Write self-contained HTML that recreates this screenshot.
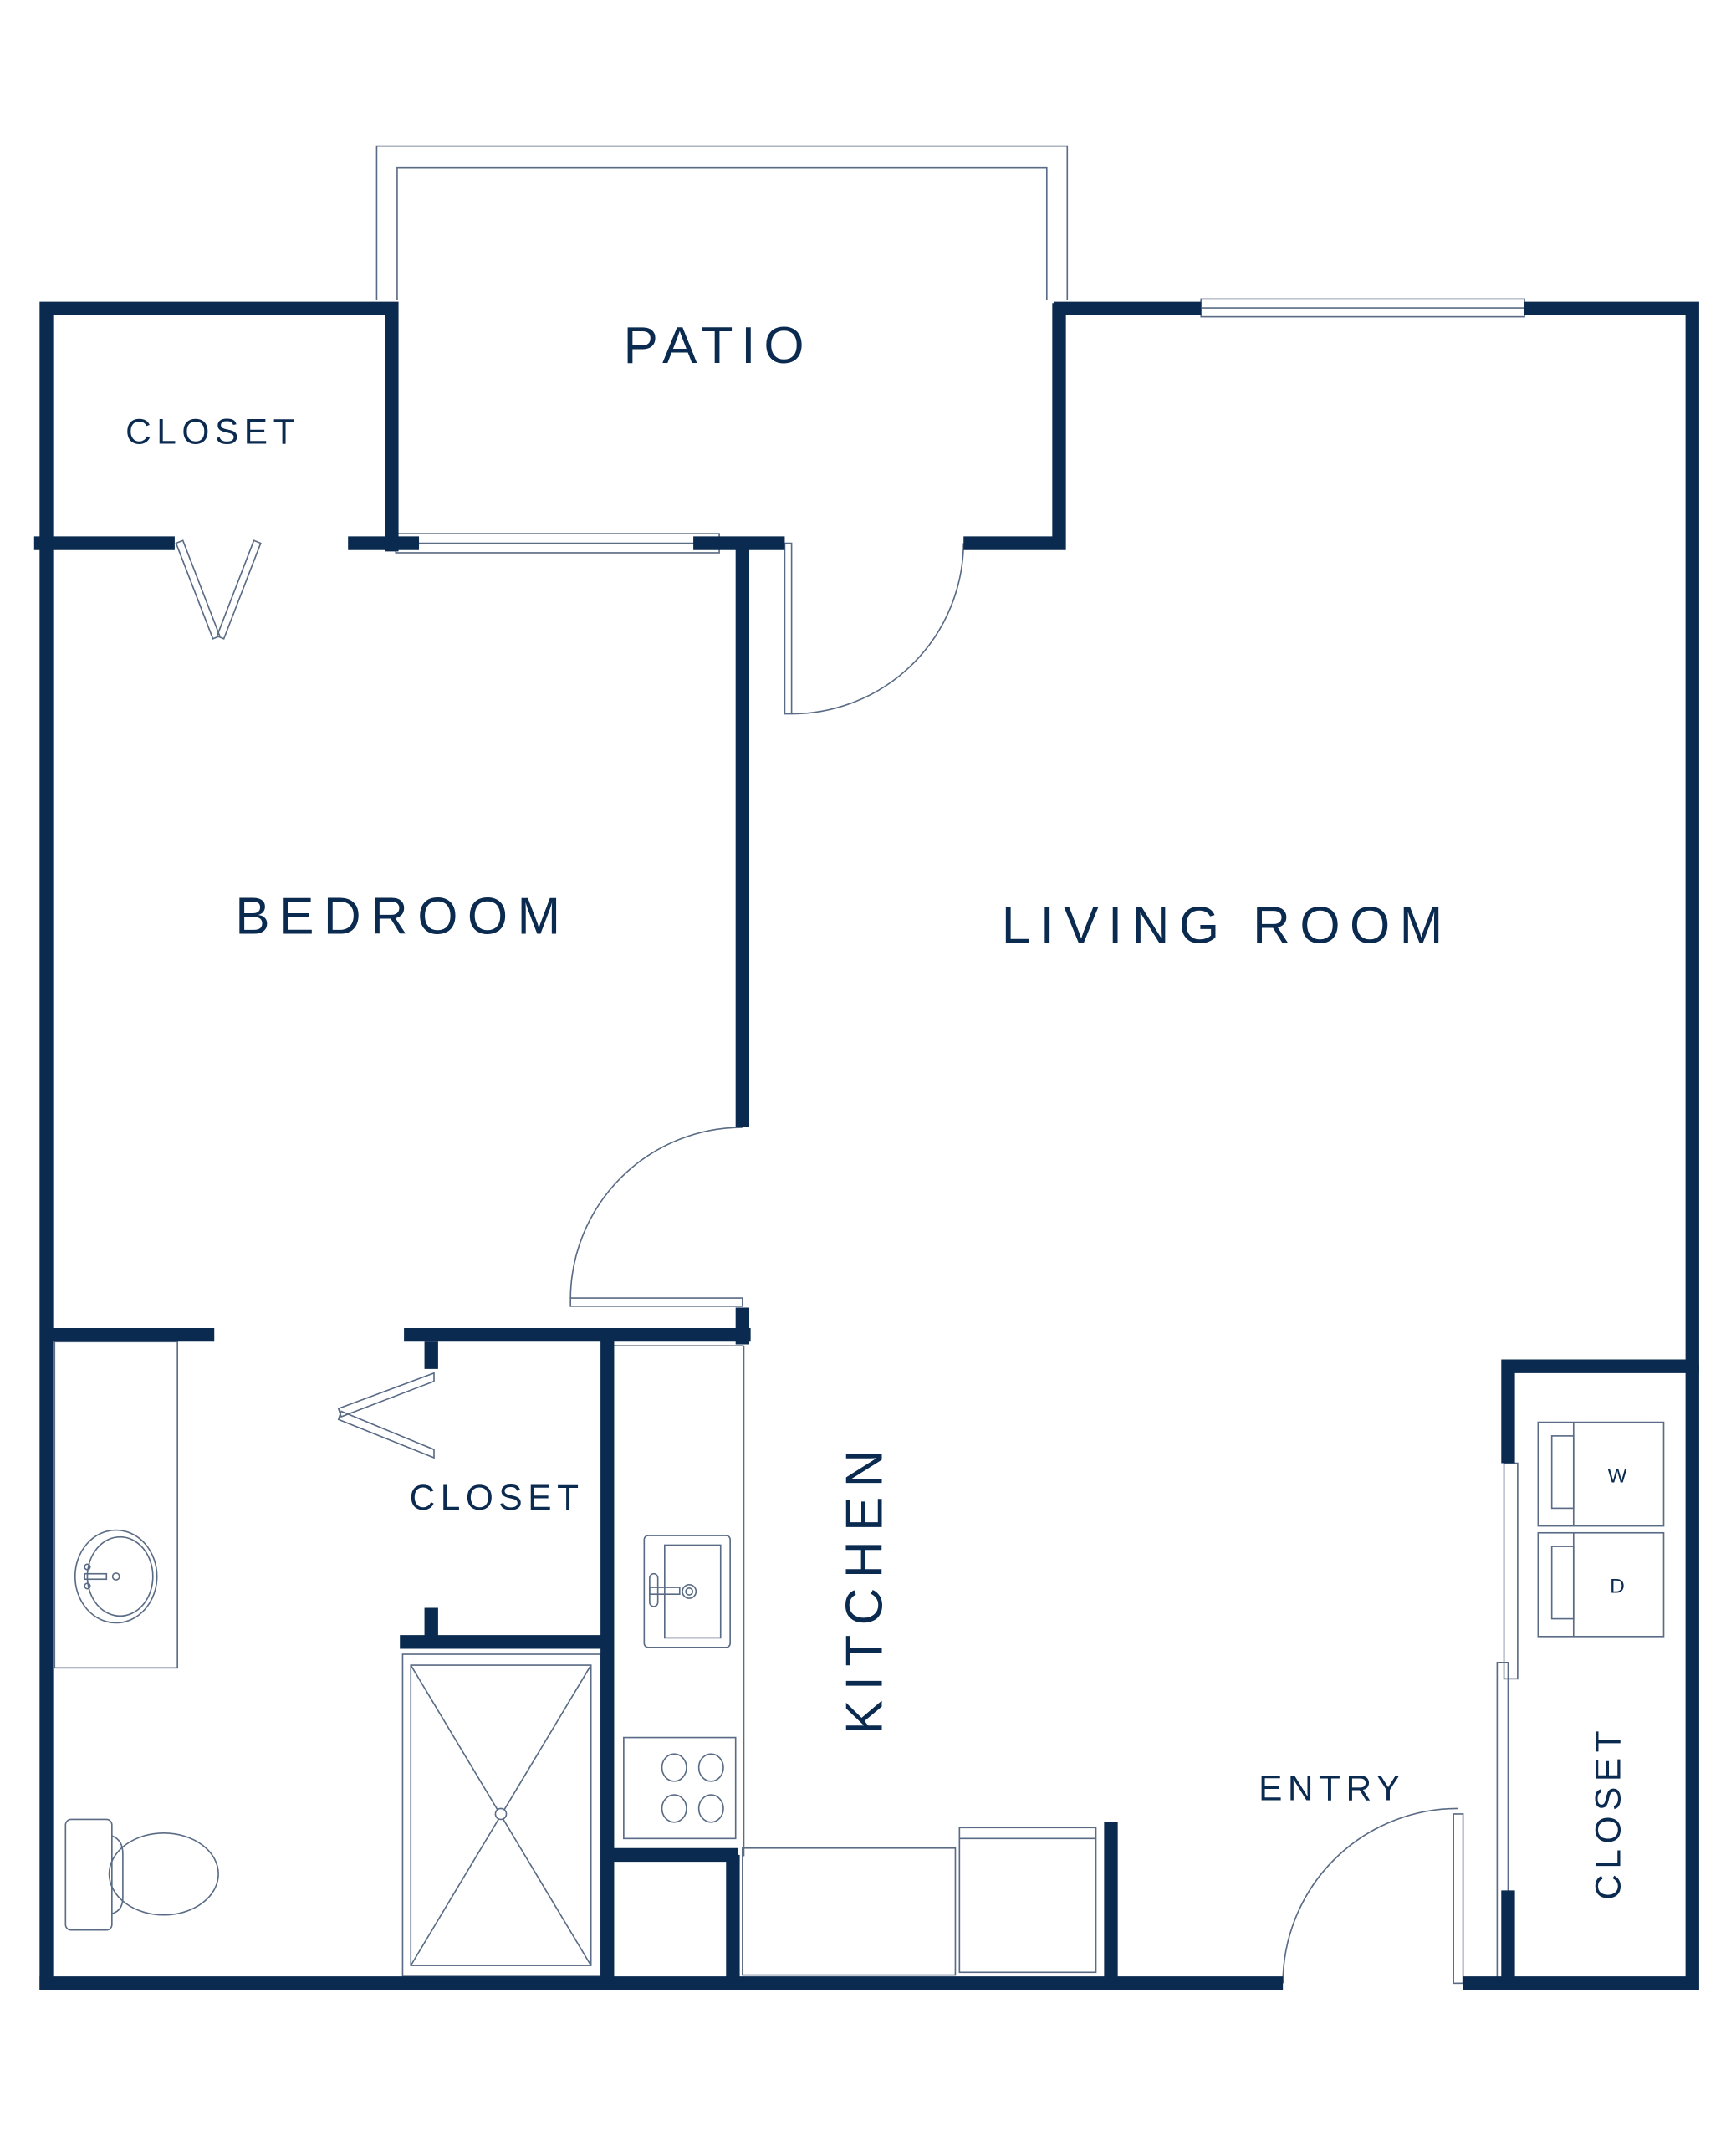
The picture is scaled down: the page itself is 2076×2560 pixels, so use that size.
<!DOCTYPE html>
<html><head><meta charset="utf-8"><style>
html,body{margin:0;padding:0;background:#fff;}
svg{display:block;}
text{font-family:"Liberation Sans",sans-serif;fill:#0b2a4f;}
</style></head><body>
<svg width="2076" height="2560" viewBox="0 0 1272 1568.6" preserveAspectRatio="none" xmlns="http://www.w3.org/2000/svg">
<g fill="none" stroke="#5a6b85" stroke-width="1">
<polyline points="276,220 276,107 782,107 782,220"/>
<polyline points="291,220 291,123 767,123 767,220"/>
<rect x="290" y="391" width="237" height="14"/>
<line x1="290" y1="398" x2="527" y2="398"/>
<rect x="880" y="219" width="237" height="13"/>
<line x1="880" y1="225.5" x2="1117" y2="225.5"/>
<rect x="575" y="398" width="5" height="125"/>
<path d="M580,523 A126,126 0 0 0 706,398"/>
<rect x="418" y="951" width="126" height="6"/>
<path d="M418,951 A126,126 0 0 1 544,826"/>
<polygon points="129,398 134,396 161,466 156,468"/>
<polygon points="186,396 191,398 164,468 159,466"/>
<polygon points="318,1006 318,1012 250,1038 248,1032"/>
<polygon points="248,1040 250,1034 318,1062 318,1068"/>
<rect x="40" y="983" width="90" height="239"/>
<ellipse cx="85" cy="1155" rx="30" ry="34"/>
<ellipse cx="88" cy="1155" rx="24" ry="29"/>
<rect x="62" y="1153" width="16" height="4"/>
<circle cx="64" cy="1148" r="2"/><circle cx="64" cy="1162" r="2"/><circle cx="85" cy="1155" r="2.5"/>
<rect x="48" y="1333" width="34" height="81" rx="4"/>
<path d="M82,1345 Q90,1348 90,1358 L90,1390 Q90,1400 82,1402"/>
<ellipse cx="120" cy="1373" rx="40" ry="30"/>
<rect x="295" y="1212" width="145" height="236"/>
<rect x="301" y="1220" width="132" height="220"/>
<line x1="301" y1="1220" x2="433" y2="1440"/>
<line x1="433" y1="1220" x2="301" y2="1440"/>
<circle cx="367" cy="1329" r="4" fill="#fff"/>
<line x1="450" y1="986" x2="545" y2="986"/>
<line x1="545" y1="986" x2="545" y2="1360"/>
<rect x="472" y="1125" width="63" height="82" rx="3"/>
<rect x="487" y="1132" width="41" height="68"/>
<rect x="476" y="1153" width="6" height="24" rx="3"/>
<rect x="476" y="1163" width="22" height="5"/>
<circle cx="505" cy="1166" r="5"/><circle cx="505" cy="1166" r="2.5"/>
<rect x="457" y="1273" width="82" height="74"/>
<ellipse cx="494" cy="1295" rx="9" ry="10"/><ellipse cx="521" cy="1295" rx="9" ry="10"/>
<ellipse cx="494" cy="1325" rx="9" ry="10"/><ellipse cx="521" cy="1325" rx="9" ry="10"/>
<rect x="544" y="1354" width="156" height="93"/>
<rect x="703" y="1339" width="100" height="106"/>
<line x1="703" y1="1347" x2="803" y2="1347"/>
<rect x="1065" y="1329" width="7" height="124"/>
<path d="M940,1453 A128,128 0 0 1 1068,1325"/>
<rect x="1102" y="1072" width="10" height="158"/>
<rect x="1097" y="1218" width="8" height="235"/>
<rect x="1127" y="1042" width="92" height="76"/>
<rect x="1137" y="1052" width="16" height="53"/>
<line x1="1153" y1="1042" x2="1153" y2="1118"/>
<rect x="1127" y="1123" width="92" height="76"/>
<rect x="1137" y="1133" width="16" height="53"/>
<line x1="1153" y1="1123" x2="1153" y2="1199"/>
</g>
<g stroke="#0b2a4f" stroke-width="10" fill="none" stroke-linecap="butt">
<polyline points="34,1458 34,226 287,226 287,404"/>
<line x1="25" y1="398" x2="128" y2="398"/>
<line x1="255" y1="398" x2="307" y2="398"/>
<line x1="508" y1="398" x2="575" y2="398"/>
<line x1="544" y1="398" x2="544" y2="826"/>
<polyline points="706,398 776,398 776,222"/>
<polyline points="772,226 880,226"/>
<polyline points="1117,226 1240,226 1240,1005"/>
<line x1="34" y1="978" x2="157" y2="978"/>
<line x1="296" y1="978" x2="550" y2="978"/>
<line x1="544" y1="958" x2="544" y2="985"/>
<line x1="316" y1="983" x2="316" y2="1003"/>
<line x1="316" y1="1178" x2="316" y2="1203"/>
<line x1="293" y1="1203" x2="445" y2="1203"/>
<line x1="445" y1="978" x2="445" y2="1457"/>
<line x1="445" y1="1359" x2="541" y2="1359"/>
<line x1="537" y1="1359" x2="537" y2="1457"/>
<line x1="814" y1="1335" x2="814" y2="1457"/>
<line x1="29" y1="1453" x2="940" y2="1453"/>
<polyline points="1072,1453 1240,1453 1240,1000"/>
<polyline points="1105,1072 1105,1001 1244,1001"/>
<line x1="1105" y1="1385" x2="1105" y2="1453"/>
</g>
<g text-anchor="middle">
<text x="526" y="266" font-size="38" letter-spacing="6">PATIO</text>
<text x="156" y="325" font-size="26" letter-spacing="4">CLOSET</text>
<text x="295" y="684" font-size="38" letter-spacing="7">BEDROOM</text>
<text x="899" y="691" font-size="38" letter-spacing="7">LIVING ROOM</text>
<text x="364" y="1106" font-size="26" letter-spacing="4">CLOSET</text>
<text x="976" y="1319" font-size="26" letter-spacing="4">ENTRY</text>
<text transform="translate(646,1163) rotate(-90)" font-size="38" letter-spacing="7">KITCHEN</text>
<text transform="translate(1187,1328) rotate(-90)" font-size="26" letter-spacing="4">CLOSET</text>
<text x="1185" y="1086" font-size="15">W</text>
<text x="1185" y="1167" font-size="15">D</text>
</g>
</svg>
</body></html>
